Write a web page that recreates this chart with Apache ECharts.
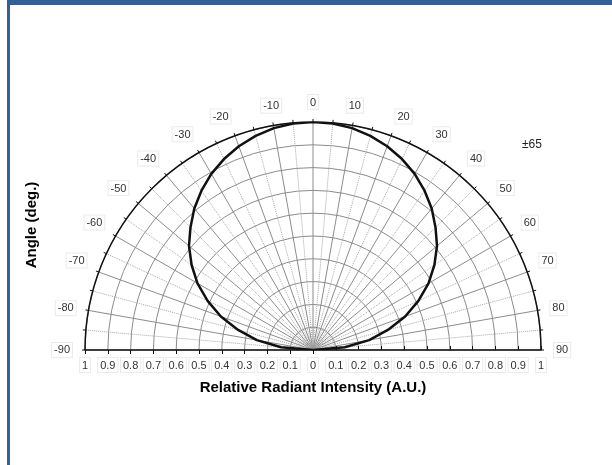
<!DOCTYPE html>
<html><head><meta charset="utf-8">
<script src="https://cdn.jsdelivr.net/npm/echarts@6/dist/echarts.min.js"></script>
<style>html,body{margin:0;padding:0;background:#fff}#c{width:612px;height:465px}</style>
</head><body><div id="c"></div>
<script>
// Angles (deg) and relative radiant intensity
const angles = [-90,-85,-80,-75,-70,-65,-60,-55,-50,-45,-40,-35,-30,-25,-20,-15,-10,-5,0,5,10,15,20,25,30,35,40,45,50,55,60,65,70,75,80,85,90];
const intensity = [0,0.14,0.25,0.34,0.43,0.51,0.585,0.65,0.71,0.76,0.81,0.853,0.892,0.924,0.951,0.972,0.988,0.997,1,0.997,0.988,0.972,0.951,0.924,0.892,0.853,0.81,0.76,0.71,0.65,0.585,0.51,0.43,0.34,0.25,0.14,0];
const angleTicks = {min:-90, max:90, interval:10};
const radiusTicks = {min:0, max:1, interval:0.1};
const halfAngleLabel = '±65';

const chart = echarts.init(document.getElementById('c'), null, {renderer:'canvas', width:612, height:465});
const center = [313, 350];
const R = 228;
const labelStyle = {fontFamily:'Liberation Sans, Arial, sans-serif', fontSize:11, color:'#333',
  backgroundColor:'#fff', borderColor:'#ebebeb', borderWidth:1, padding:[2,2,1,2]};
const option = {
  animation:false,
  backgroundColor:'#fff',
  polar:[{center:center, radius:[0,R]},{center:center, radius:[0,R]}],
  angleAxis:[{
    polarIndex:0, type:'value', min:angleTicks.min, max:angleTicks.max, interval:angleTicks.interval,
    startAngle:180, endAngle:0, clockwise:true,
    axisLine:{show:true, lineStyle:{color:'#111', width:1.5}},
    axisTick:{show:true, length:3, lineStyle:{color:'#111'}},
    minorTick:{show:true, splitNumber:2, length:3, lineStyle:{color:'#111'}},
    axisLabel:Object.assign({show:true, margin:13, formatter:v=>String(v)}, labelStyle),
    splitLine:{show:true, lineStyle:{color:'#8c8c8c', width:1}},
    minorSplitLine:{show:true, lineStyle:{color:'#a8a8a8', width:1, type:'dotted'}}
  },{
    polarIndex:1, type:'value', min:angleTicks.min, max:angleTicks.max,
    startAngle:0, endAngle:180, clockwise:false, show:false
  }],
  radiusAxis:[{
    polarIndex:0, type:'value', min:radiusTicks.min, max:radiusTicks.max, interval:radiusTicks.interval,
    axisLine:{show:true, lineStyle:{color:'#111', width:1.5}},
    axisTick:{show:true, length:4, lineStyle:{color:'#111'}},
    axisLabel:Object.assign({show:true, margin:8, formatter:v=>String(+v.toFixed(1))}, labelStyle),
    splitLine:{show:true, lineStyle:{color:'#8c8c8c', width:1}}
  },{
    polarIndex:1, type:'value', min:radiusTicks.min, max:radiusTicks.max, interval:radiusTicks.interval,
    axisLine:{show:true, lineStyle:{color:'#111', width:1.5}},
    axisTick:{show:true, inside:true, length:4, lineStyle:{color:'#111'}},
    axisLabel:Object.assign({show:true, showMinLabel:false, margin:-8, verticalAlign:'top', align:'center', formatter:v=>String(+v.toFixed(1))}, labelStyle),
    splitLine:{show:false}
  }],
  series:[{
    type:'line', coordinateSystem:'polar', polarIndex:0, symbol:'none', smooth:false,
    lineStyle:{color:'#111', width:2.5},
    data: angles.map((a,i)=>[intensity[i], a]),
    z:10
  }],
  graphic:[
    {type:'rect', shape:{x:8, y:0, width:604, height:5}, style:{fill:'#33609a'}, silent:true},
    {type:'rect', shape:{x:7, y:0, width:3, height:465}, style:{fill:'#33609a'}, silent:true},
    {type:'text', x:532, y:145, style:{text:halfAngleLabel, fontFamily:'Liberation Sans, Arial, sans-serif', fontSize:12, fill:'#222', align:'center', verticalAlign:'middle'}},
    {type:'text', x:313, y:388, style:{text:'Relative Radiant Intensity (A.U.)', fontFamily:'Liberation Sans, Arial, sans-serif', fontSize:15, fontWeight:'bold', fill:'#000', align:'center', verticalAlign:'middle'}},
    {type:'text', x:32, y:225, rotation:Math.PI/2, style:{text:'Angle (deg.)', fontFamily:'Liberation Sans, Arial, sans-serif', fontSize:15, fontWeight:'bold', fill:'#000', align:'center', verticalAlign:'middle'}}
  ]
};
chart.setOption(option);
</script></body></html>
